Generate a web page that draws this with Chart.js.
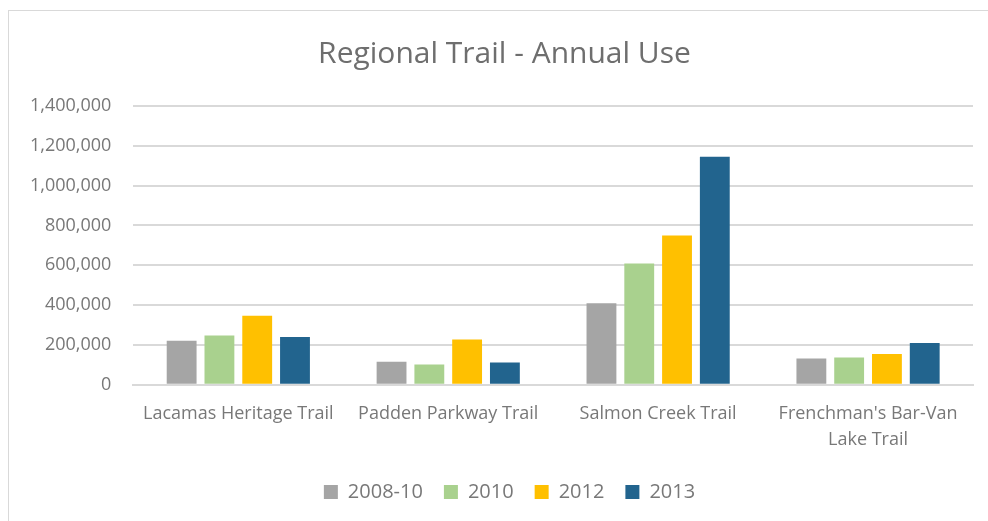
<!DOCTYPE html>
<html>
<head>
<meta charset="utf-8">
<script src="https://cdn.jsdelivr.net/npm/chart.js@4/dist/chart.umd.min.js"></script>
<style>
  html, body { margin: 0; padding: 0; background: #fff; overflow: hidden; }
  #frame { position: absolute; left: 8px; top: 10px; width: 1000px; height: 540px; border: 1px solid #d9d9d9; }
  #wrap { position: absolute; left: 0; top: 0; width: 988px; height: 521px; }
</style>
</head>
<body>
<div id="frame"></div>
<div id="wrap"><canvas id="chartTrail"></canvas></div>
<script>
// data
const trails = [
    'Lacamas Heritage Trail',
    'Padden Parkway Trail',
    'Salmon Creek Trail',
    ["Frenchman's Bar-Van", 'Lake Trail']
];
const use2008 = [221000, 116000, 410000, 132000];
const use2010 = [247000, 102000, 609000, 137000];
const use2012 = [347000, 227000, 750000, 155000];
const use2013 = [240000, 112000, 1145000, 210000];

const fontFamily = '"Open Sans", "Noto Sans", sans-serif';
const titleColor = '#6e6e6e';
const textColor = '#787878';

// title and legend are centred on the frame, not on the canvas
const shiftBoxes = {
    id: 'shiftBoxes',
    afterLayout(chart) {
        chart.titleBlock.left += 14;
        chart.titleBlock.right += 14;
        chart.legend.left += 19;
        chart.legend.right += 19;
    }
};

const ctx = document.getElementById('chartTrail');

new Chart(ctx, {
    type: 'bar',
    data: {
        labels: trails,
        datasets: [
            { label: '2008-10', data: use2008, backgroundColor: '#a5a5a5' },
            { label: '2010', data: use2010, backgroundColor: '#a9d18e' },
            { label: '2012', data: use2012, backgroundColor: '#ffc000' },
            { label: '2013', data: use2013, backgroundColor: '#22648e' }
        ]
    },
    options: {
        responsive: true,
        maintainAspectRatio: false,
        animation: false,
        categoryPercentage: 0.72,
        barPercentage: 0.79,
        layout: { padding: { left: 8, right: 15, top: 20, bottom: 9 } },
        scales: {
            x: {
                grid: { display: false },
                border: { display: true, color: '#d9d9d9', width: 2 },
                ticks: {
                    color: textColor,
                    font: { family: fontFamily, size: 18, lineHeight: 1.45 },
                    maxRotation: 0,
                    autoSkip: false,
                    padding: 8
                }
            },
            y: {
                min: 0,
                max: 1400000,
                ticks: {
                    stepSize: 200000,
                    color: textColor,
                    font: { family: fontFamily, size: 18 },
                    padding: 22,
                    callback: v => v.toLocaleString('en-US')
                },
                grid: { color: '#d9d9d9', lineWidth: 2, drawTicks: false },
                border: { display: false }
            }
        },
        plugins: {
            title: {
                display: true,
                text: 'Regional Trail - Annual Use',
                color: titleColor,
                font: { family: fontFamily, size: 30, weight: 'normal' },
                padding: { top: 16, bottom: 34 }
            },
            legend: {
                position: 'bottom',
                labels: {
                    color: textColor,
                    font: { family: fontFamily, size: 20 },
                    boxWidth: 14,
                    boxHeight: 14,
                    padding: 21
                }
            },
            tooltip: { enabled: false }
        }
    },
    plugins: [shiftBoxes]
});
</script>
</body>
</html>
